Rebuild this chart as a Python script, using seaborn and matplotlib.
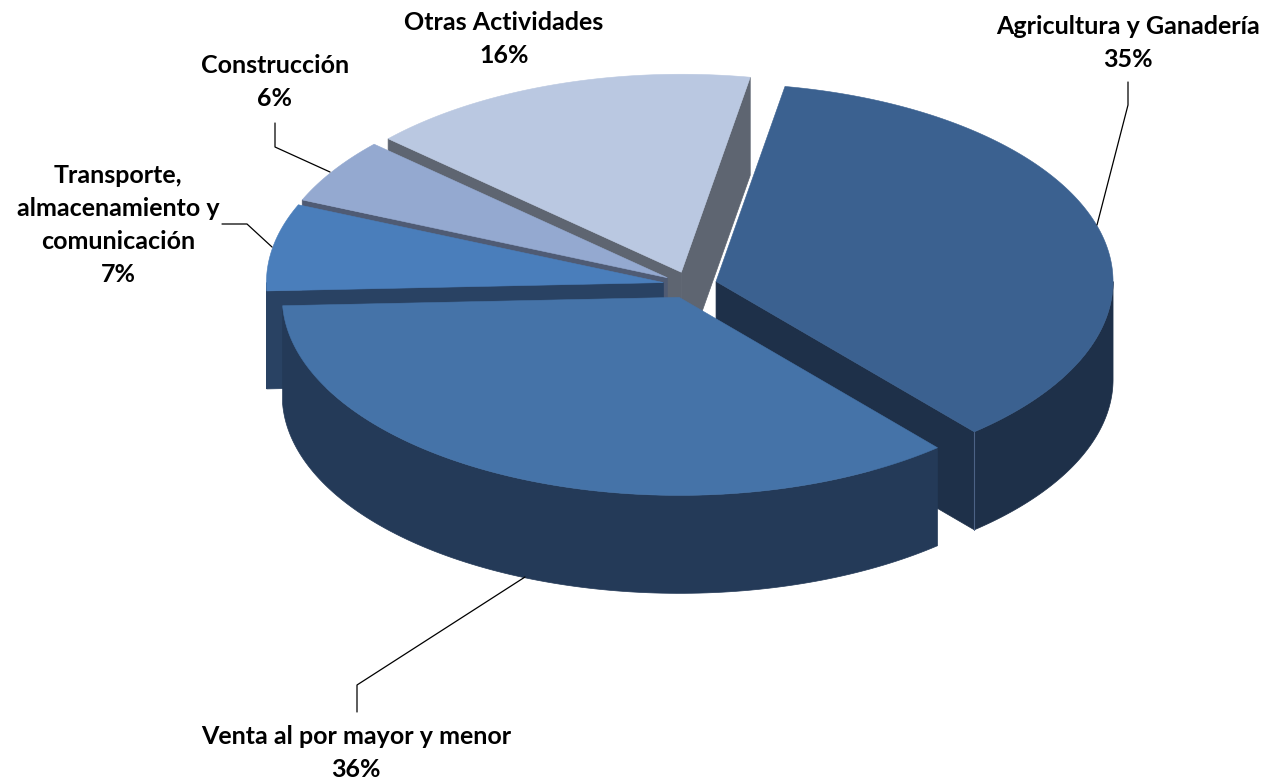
import numpy as np
import seaborn as sns
import matplotlib.pyplot as plt

categories = ["Agricultura y Ganadería", "Venta al por mayor y menor",
              "Transporte,\nalmacenamiento y\ncomunicación", "Construcción", "Otras Actividades"]
# slice sizes, the printed labels are kept apart
values = [35.95, 35.6, 7.1, 5.35, 16.0]
pct_labels = ["35%", "36%", "7%", "6%", "16%"]

top_colors = ["#3B6190", "#4573A8", "#4A7EBB", "#94A9D0", "#BAC8E1"]
side_colors = ["#1E3049", "#243A58", "#294263", "#4F5B74", "#5E6571"]

# layout of the pie, in pixels
cx, cy = 690, 285
rx, ry = 397, 198
depth = 98
explode = 27
start_angle = 10
draw_order = [4, 0, 3, 2, 1]

label_pos = [(1128, 43), (356, 753), (118, 225), (275, 82), (504, 39)]
leaders = [
    [(1097, 225), (1128, 105), (1128, 82)],
    [(525, 577), (357, 685), (357, 712)],
    [(272, 247), (247, 224), (222, 224)],
    [(330, 172), (275, 147), (275, 123)],
]

sns.set_theme(style="white")
plt.rcParams['font.family'] = ['Lato', 'DejaVu Sans']

fig, ax = plt.subplots(figsize=(12.67, 7.83), dpi=100)
ax.set_position([0, 0, 1, 1])
ax.set_xlim(0, 1267)
ax.set_ylim(783, 0)
ax.axis("off")


def ell(x0, y0, theta):
    t = np.radians(theta)
    return x0 + rx * np.sin(t), y0 - ry * np.cos(t)


fracs = np.array(values) / sum(values) * 360
ends = start_angle + np.cumsum(fracs)
starts = ends - fracs

for i in draw_order:
    a, b = starts[i], ends[i]
    mid = np.radians((a + b) / 2)
    x0 = cx + explode * np.sin(mid)
    y0 = cy - explode * ry / rx * np.cos(mid)
    top = top_colors[i]
    side = side_colors[i]

    # radial faces, only the ones turned to the viewer
    for th, sign in ((a, -1), (b, 1)):
        if np.sin(np.radians(th)) * sign > 0:
            ex, ey = ell(x0, y0, th)
            ax.fill([x0, ex, ex, x0], [y0, ey, ey + depth, y0 + depth],
                    color=side, lw=0.5, zorder=1)

    # outer wall, front part of the arc
    lo, hi = max(a, 90), min(b, 270)
    if hi > lo:
        th = np.linspace(lo, hi, 120)
        ex, ey = ell(x0, y0, th)
        ax.fill(np.r_[ex, ex[::-1]], np.r_[ey, ey[::-1] + depth],
                color=side, lw=0.5, zorder=1)

    th = np.linspace(a, b, 200)
    ex, ey = ell(x0, y0, th)
    ax.fill(np.r_[x0, ex], np.r_[y0, ey], color=top, lw=0.4, zorder=1)

    if i == 0:
        # pale seam on the corner of the first slice
        ex, ey = ell(x0, y0, b)
        ax.plot([ex, ex], [ey, ey + depth], color="#4C6285", lw=0.8, zorder=1)

for pts in leaders:
    xs, ys = zip(*pts)
    ax.plot(xs, ys, color="black", lw=0.9, zorder=2)

for name, pct, (lx, ly) in zip(categories, pct_labels, label_pos):
    ax.text(lx, ly, f"{name}\n{pct}", ha="center", va="center", fontsize=18,
            fontweight="bold", color="black", linespacing=1.53, zorder=3)

fig.savefig("out.png", dpi=100)
